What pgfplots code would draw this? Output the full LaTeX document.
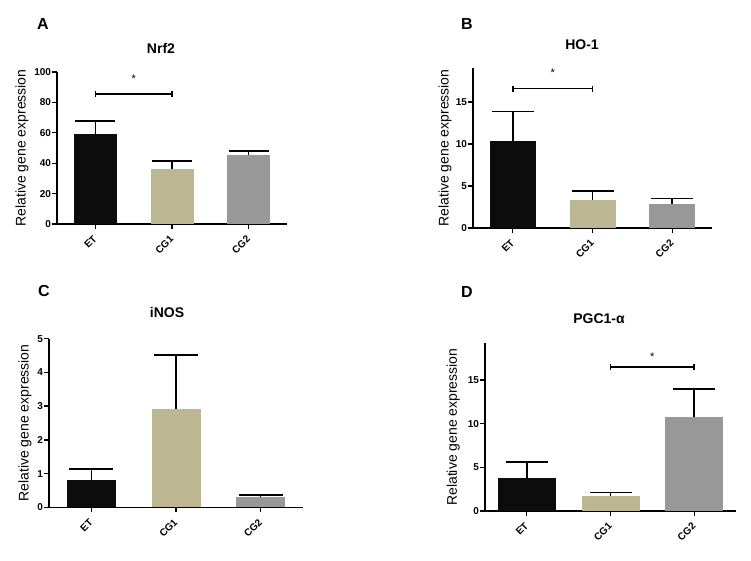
\documentclass[border=0pt]{standalone}
\usepackage{fontspec}
\setmainfont{Liberation Sans}
\usepackage{pgfplots}
\pgfplotsset{compat=1.18}
\definecolor{etblack}{RGB}{12,12,12}
\definecolor{cgbeige}{RGB}{189,182,146}
\definecolor{cggray}{RGB}{152,152,152}
\pgfplotsset{
  prism/.style={
    scale only axis,
    anchor=south west,
    axis lines*=left,
    axis line style={line width=1.3pt,-},
    tick style={line width=1.3pt,black},
    major tick length=5pt,
    tick align=outside,
    xtick={0,1,2},
    xticklabels={ET,CG1,CG2},
    xmin=-0.5, xmax=2.5, ymin=0,
    clip=false,
    /pgf/number format/assume math mode=true,
    ticklabel style={font=\fontsize{10}{11}\selectfont\bfseries},
    yticklabel style={inner sep=0.8pt},
    xticklabel style={xshift=0.5pt, yshift=-7.5pt, rotate=45, anchor=east, inner sep=1pt},
    ylabel={Relative gene expression},
    every axis y label/.style={rotate=90, anchor=center, font=\fontsize{14}{15}\selectfont},
  },
  barstyle/.style n args={3}{ybar, bar shift=0pt, draw=none, fill=#1, bar width=#2,
    error bars/y dir=plus, error bars/y explicit,
    error bars/error bar style={line width=1.6pt, black},
    error bars/error mark options={rotate=90, line width=1.6pt, black, mark size=#3}},
  bracket/.style={black, line width=1.6pt, mark=|, mark size=3pt, mark options={line width=1.6pt}},
}
\begin{document}
\begin{tikzpicture}
\useasboundingbox (0pt,0pt) rectangle (751pt,560pt);
% ---------------- A: Nrf2
\begin{axis}[prism, at={(57pt,336pt)}, width=230pt, height=152pt,
  ymax=100, ytick={0,20,40,60,80,100},
  every axis y label/.append style={at={(axis description cs:-0.152,0.5)}}]
\addplot[barstyle={etblack}{43pt}{20pt}] coordinates {(0,59.5) +- (0,8.3)};
\addplot[barstyle={cgbeige}{43pt}{20pt}] coordinates {(1,36.4) +- (0,5.2)};
\addplot[barstyle={cggray}{43pt}{20pt}] coordinates {(2,45.6) +- (0,2.4)};
\addplot[bracket] coordinates {(0,85.7) (1,85.7)};
\node[font=\fontsize{11}{11}\selectfont, yshift=-2pt] at (axis cs:0.5,96.7) {*};
\end{axis}
% ---------------- B: HO-1
\begin{axis}[prism, at={(473pt,332pt)}, width=239pt, height=160pt,
  ymax=19.05, ytick={0,5,10,15},
  every axis y label/.append style={at={(axis description cs:-0.117,0.5)}}]
\addplot[barstyle={etblack}{46pt}{21pt}] coordinates {(0,10.4) +- (0,3.45)};
\addplot[barstyle={cgbeige}{46pt}{21pt}] coordinates {(1,3.33) +- (0,1.11)};
\addplot[barstyle={cggray}{46pt}{21pt}] coordinates {(2,2.86) +- (0,0.67)};
\addplot[bracket] coordinates {(0,16.6) (1,16.6)};
\node[font=\fontsize{11}{11}\selectfont, yshift=-2pt] at (axis cs:0.5,18.7) {*};
\end{axis}
% ---------------- C: iNOS
\begin{axis}[prism, at={(49pt,52.7pt)}, width=254pt, height=168.6pt,
  ymax=5, ytick={0,1,2,3,4,5},
  every axis y label/.append style={at={(axis description cs:-0.094,0.5)}}]
\addplot[barstyle={etblack}{49pt}{22pt}] coordinates {(0,0.81) +- (0,0.33)};
\addplot[barstyle={cgbeige}{49pt}{22pt}] coordinates {(1,2.91) +- (0,1.60)};
\addplot[barstyle={cggray}{49pt}{22pt}] coordinates {(2,0.30) +- (0,0.07)};
\end{axis}
% ---------------- D: PGC1-alpha
\begin{axis}[prism, at={(485pt,49pt)}, width=251pt, height=167.7pt,
  ymax=19.2, ytick={0,5,10,15},
  every axis y label/.append style={at={(axis description cs:-0.127,0.5)}}]
\addplot[barstyle={etblack}{58pt}{21pt}] coordinates {(0,3.81) +- (0,1.77)};
\addplot[barstyle={cgbeige}{58pt}{21pt}] coordinates {(1,1.72) +- (0,0.42)};
\addplot[barstyle={cggray}{58pt}{21pt}] coordinates {(2,10.8) +- (0,3.17)};
\addplot[bracket] coordinates {(1,16.46) (2,16.46)};
\node[font=\fontsize{11}{11}\selectfont, yshift=-2pt] at (axis cs:1.5,17.9) {*};
\end{axis}
% ---------------- titles and panel letters
\node[font=\fontsize{14}{14}\selectfont\bfseries] at (161pt,512pt) {Nrf2};
\node[font=\fontsize{14}{14}\selectfont\bfseries] at (582pt,515pt) {HO-1};
\node[font=\fontsize{14}{14}\selectfont\bfseries] at (167pt,248pt) {iNOS};
\node[font=\fontsize{14}{14}\selectfont\bfseries] at (599pt,241pt) {PGC1-α};
\node[font=\fontsize{16}{16}\selectfont\bfseries] at (43pt,536pt) {A};
\node[font=\fontsize{16}{16}\selectfont\bfseries] at (467pt,536pt) {B};
\node[font=\fontsize{16}{16}\selectfont\bfseries] at (44pt,269pt) {C};
\node[font=\fontsize{16}{16}\selectfont\bfseries] at (467pt,268pt) {D};
\end{tikzpicture}
\end{document}
